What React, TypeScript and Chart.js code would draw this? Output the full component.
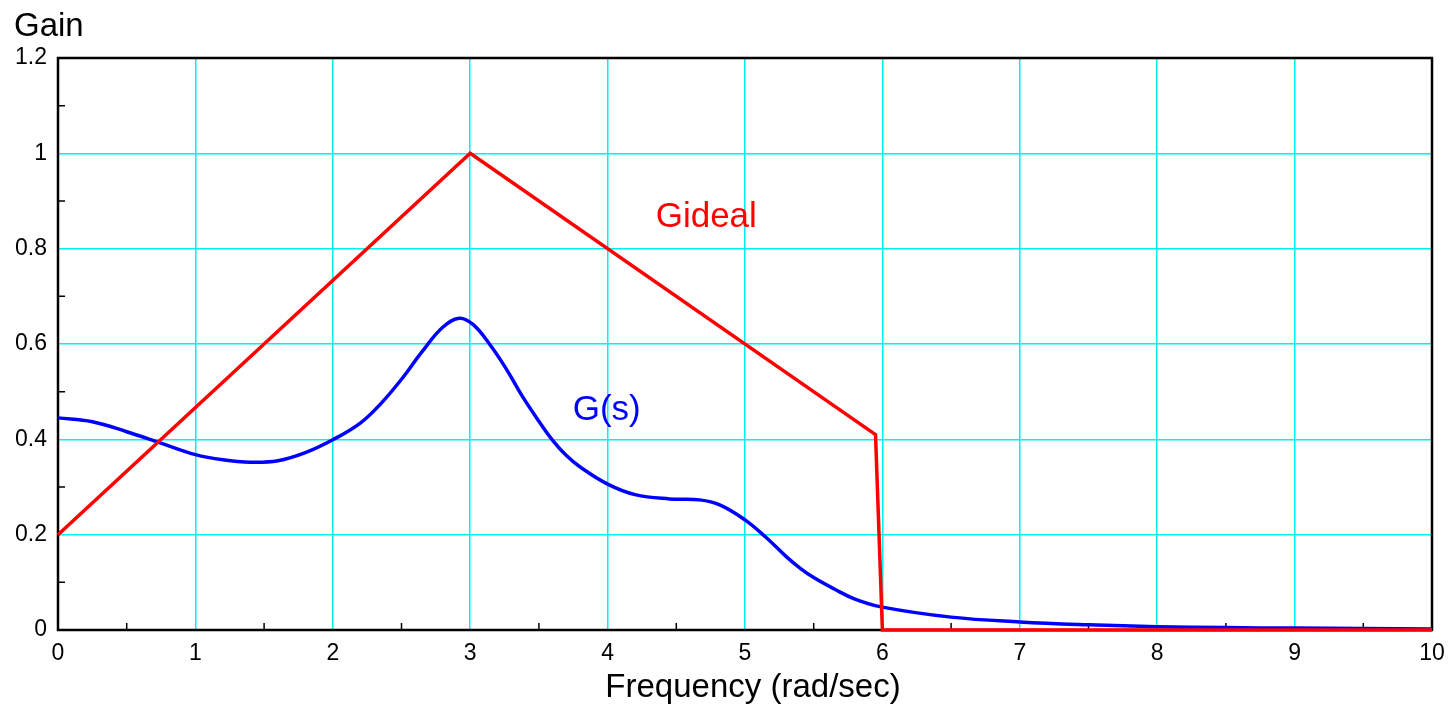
import React, { useEffect, useRef } from "react";
import { Chart, registerables } from "chart.js";

Chart.register(...registerables);

const gidealX = [0, 3, 5.95, 6, 10];
const gidealY = [0.2, 1, 0.41, 0, 0];

const gsX = [0, 0.25, 0.5, 0.75, 1, 1.2, 1.4, 1.6, 1.8, 2, 2.2, 2.35, 2.5, 2.65, 2.8, 2.92, 3.02, 3.14, 3.26, 3.38, 3.5, 3.6, 3.7, 3.8, 4, 4.2, 4.45, 4.67, 4.82, 5, 5.15, 5.3, 5.4, 5.5, 5.65, 5.8, 6, 6.5, 7, 7.5, 8, 8.5, 9, 9.5, 10];
const gsY = [0.445, 0.437, 0.416, 0.392, 0.368, 0.357, 0.352, 0.355, 0.372, 0.399, 0.434, 0.475, 0.526, 0.584, 0.635, 0.654, 0.641, 0.6, 0.549, 0.49, 0.438, 0.398, 0.366, 0.342, 0.306, 0.284, 0.275, 0.273, 0.262, 0.231, 0.195, 0.154, 0.13, 0.11, 0.086, 0.065, 0.048, 0.027, 0.017, 0.011, 0.007, 0.005, 0.004, 0.003, 0.002];

const xTicks = [0, 1, 2, 3, 4, 5, 6, 7, 8, 9, 10];
const yTicks = [0, 0.2, 0.4, 0.6, 0.8, 1, 1.2];
const xMinorTicks = [0.5, 1.5, 2.5, 3.5, 4.5, 5.5, 6.5, 7.5, 8.5, 9.5];
const yMinorTicks = [0.1, 0.3, 0.5, 0.7, 0.9, 1.1];

const yAxisTitle = "Gain";
const xAxisTitle = "Frequency (rad/sec)";
const gidealLabel = { text: "Gideal", x: 4.35, y: 0.845 };
const gsLabel = { text: "G(s)", x: 3.746, y: 0.44 };

const FONT = '"Liberation Sans", Arial, Helvetica, sans-serif';

export default function App() {
  const ref = useRef<HTMLCanvasElement>(null);

  useEffect(() => {
    const canvas = ref.current;
    if (!canvas) return;

    const decor = {
      id: "decor",
      beforeDatasetsDraw(chart: any) {
        const { ctx, chartArea: a, scales } = chart;
        ctx.save();
        ctx.strokeStyle = "#000";
        ctx.lineWidth = 1.5;
        ctx.beginPath();
        for (const v of yMinorTicks) {
          const py = scales.y.getPixelForValue(v);
          ctx.moveTo(a.left, py);
          ctx.lineTo(a.left + 7, py);
        }
        for (const v of xMinorTicks) {
          const px = scales.x.getPixelForValue(v);
          ctx.moveTo(px, a.bottom);
          ctx.lineTo(px, a.bottom - 7);
        }
        ctx.stroke();
        ctx.lineWidth = 2.5;
        ctx.strokeRect(a.left, a.top, a.right - a.left, a.bottom - a.top);
        ctx.restore();
      },
      afterDraw(chart: any) {
        const { ctx, scales } = chart;
        ctx.save();
        ctx.textBaseline = "alphabetic";
        ctx.fillStyle = "#000";
        ctx.font = `33px ${FONT}`;
        ctx.textAlign = "left";
        ctx.fillText(yAxisTitle, 14, 36);
        ctx.textAlign = "center";
        ctx.fillText(xAxisTitle, 753, 697);
        ctx.textAlign = "left";
        ctx.font = `35px ${FONT}`;
        ctx.fillStyle = "#ff0000";
        ctx.fillText(gidealLabel.text, scales.x.getPixelForValue(gidealLabel.x), scales.y.getPixelForValue(gidealLabel.y));
        ctx.fillStyle = "#0000ff";
        ctx.fillText(gsLabel.text, scales.x.getPixelForValue(gsLabel.x), scales.y.getPixelForValue(gsLabel.y));
        ctx.restore();
      },
    };

    const chart = new Chart(canvas, {
      type: "line",
      data: {
        datasets: [
          {
            label: "Gideal",
            data: gidealX.map((x, i) => ({ x, y: gidealY[i] })),
            borderColor: "#ff0000",
            borderWidth: 3.5,
            pointRadius: 0,
            tension: 0,
            clip: 5,
          },
          {
            label: "G(s)",
            data: gsX.map((x, i) => ({ x, y: gsY[i] })),
            borderColor: "#0000ff",
            borderWidth: 3.5,
            pointRadius: 0,
            tension: 0.4,
            clip: 5,
          },
        ],
      },
      options: {
        animation: false,
        responsive: true,
        maintainAspectRatio: false,
        layout: { padding: { top: 58, right: 20, left: 0, bottom: 0 } },
        plugins: { legend: { display: false }, tooltip: { enabled: false } },
        scales: {
          x: {
            type: "linear",
            min: 0,
            max: 10,
            afterBuildTicks: (s: any) => {
              s.ticks = xTicks.map((v) => ({ value: v }));
            },
            afterFit: (s: any) => {
              s.height = 77;
              s.paddingLeft = 0;
              s.paddingRight = 0;
            },
            ticks: {
              color: "#000",
              font: { family: FONT, size: 23 },
              padding: 10,
              maxRotation: 0,
              callback: (v: any) => String(v),
            },
            grid: { color: "#00f0f0", lineWidth: 1.5, drawTicks: false },
            border: { display: false },
          },
          y: {
            type: "linear",
            min: 0,
            max: 1.2,
            afterBuildTicks: (s: any) => {
              s.ticks = yTicks.map((v) => ({ value: v }));
            },
            afterFit: (s: any) => {
              s.width = 58;
              s.paddingTop = 0;
              s.paddingBottom = 0;
            },
            ticks: {
              color: "#000",
              font: { family: FONT, size: 23 },
              padding: 11,
              callback: (v: any) => String(Math.round(v * 10) / 10),
            },
            grid: { color: "#00f0f0", lineWidth: 1.5, drawTicks: false },
            border: { display: false },
          },
        },
      },
      plugins: [decor],
    });

    return () => chart.destroy();
  }, []);

  return (
    <div style={{ position: "fixed", left: 0, top: 0, width: 1452, height: 707, background: "#fff" }}>
      <canvas ref={ref} />
    </div>
  );
}
